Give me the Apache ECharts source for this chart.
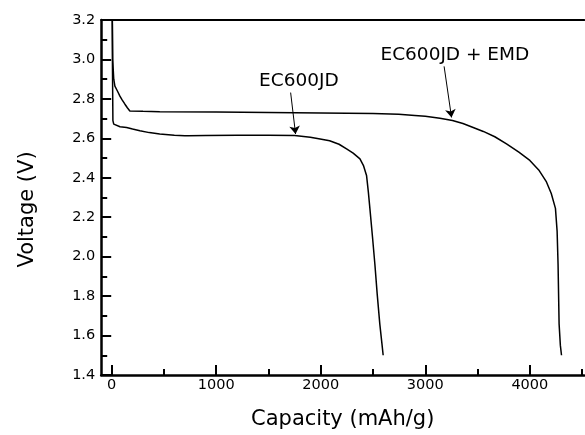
<!DOCTYPE html>
<html>
<head>
<meta charset="utf-8">
<script src="https://cdn.jsdelivr.net/npm/echarts@6/dist/echarts.min.js"></script>
<style>html,body{margin:0;padding:0;background:#fff;}#c{width:585px;height:435px;}</style>
</head>
<body>
<div id="c"></div>
<script>
// ---- data ----
const lowerCap  = [5, 8, 12, 20, 38, 80, 143, 200, 270, 360, 460, 600, 700, 714, 730, 900, 1200, 1500, 1750, 1900, 1994, 2085, 2175, 2247, 2310, 2375, 2410, 2438, 2455, 2470, 2495, 2518, 2540, 2565, 2585, 2597];
const lowerVolt = [3.3, 2.95, 2.69, 2.672, 2.664, 2.659, 2.655, 2.647, 2.638, 2.629, 2.622, 2.616, 2.613, 2.604, 2.613, 2.614, 2.616, 2.616, 2.614, 2.606, 2.597, 2.588, 2.57, 2.546, 2.525, 2.496, 2.46, 2.412, 2.33, 2.245, 2.10, 1.96, 1.81, 1.658, 1.56, 1.50];
const upperCap  = [5, 10, 20, 31, 55, 79, 100, 127, 150, 174, 300, 460, 1000, 1500, 2000, 2500, 2746, 2900, 3000, 3140, 3260, 3360, 3458, 3555, 3665, 3777, 3895, 4000, 4085, 4159, 4205, 4245, 4261, 4270, 4280, 4292, 4303];
const upperVolt = [3.3, 3.0, 2.90, 2.865, 2.84, 2.814, 2.795, 2.773, 2.755, 2.739, 2.737, 2.735, 2.733, 2.731, 2.729, 2.726, 2.722, 2.716, 2.712, 2.702, 2.69, 2.675, 2.655, 2.635, 2.608, 2.572, 2.53, 2.488, 2.44, 2.379, 2.32, 2.245, 2.128, 1.96, 1.658, 1.55, 1.50];

const seriesNames = ['EC600JD', 'EC600JD + EMD'];
const xMajorTicks = [0, 1000, 2000, 3000, 4000];
const xMinorTicks = [500, 1500, 2500, 3500, 4500];
const yTickLabels = [1.4, 1.6, 1.8, 2.0, 2.2, 2.4, 2.6, 2.8, 3.0, 3.2];

// annotation text anchors [capacity, voltage]
const labelLowerPos = [1791, 2.890];
const labelUpperPos = [3283, 3.024];
// arrows [from, to]
const arrowLowerFrom = [1712, 2.832], arrowLowerTo = [1759, 2.622];
const arrowUpperFrom = [3180, 2.965], arrowUpperTo = [3251, 2.706];

const zip = (a, b) => a.map((v, i) => [v, b[i]]);

const FONT = 'DejaVu Sans';
const chart = echarts.init(document.getElementById('c'), null, {renderer: 'canvas'});

const labelStyle = (txt) => ({
  show: true, formatter: txt, position: 'inside',
  fontFamily: FONT, fontSize: 18.5, color: '#000'
});

const lineSeries = (name, data, labelPos, from, to) => ({
  name, type: 'line', data, showSymbol: false, symbol: 'none',
  clip: true, animation: false, silent: true,
  lineStyle: {color: '#000', width: 1.5},
  markLine: {
    silent: true, animation: false,
    symbol: ['none', 'arrow'], symbolSize: 8,
    label: {show: false},
    lineStyle: {color: '#000', width: 1, type: 'solid'},
    data: [[{coord: from}, {coord: to}]]
  },
  markPoint: {
    silent: true, animation: false,
    data: [{coord: labelPos, symbol: 'circle', symbolSize: 0, label: labelStyle(name)}]
  }
});

chart.setOption({
  animation: false,
  backgroundColor: '#fff',
  grid: {left: 101.2, top: 20, right: 0.8, bottom: 57, containLabel: false},
  xAxis: [
    {
      type: 'value', min: -100, max: 4520, position: 'bottom',
      name: 'Capacity (mAh/g)', nameLocation: 'middle', nameGap: 34,
      nameTextStyle: {fontFamily: FONT, fontSize: 21, color: '#000'},
      axisLine: {show: true, onZero: false, lineStyle: {color: '#000', width: 2.5}},
      axisTick: {show: true, inside: true, length: 10, customValues: xMajorTicks, lineStyle: {color: '#000', width: 2}},
      axisLabel: {show: true, customValues: xMajorTicks, margin: 3, fontFamily: FONT, fontSize: 14.5, color: '#000',
        formatter: v => String(Math.round(v))},
      splitLine: {show: false}
    },
    {
      type: 'value', min: -100, max: 4520, position: 'bottom', gridIndex: 0,
      axisLine: {show: false, onZero: false},
      axisTick: {show: true, inside: true, length: 6, customValues: xMinorTicks, lineStyle: {color: '#000', width: 2}},
      axisLabel: {show: false},
      splitLine: {show: false}
    },
    {
      type: 'value', min: -100, max: 4520, position: 'top', gridIndex: 0,
      axisLine: {show: true, onZero: false, lineStyle: {color: '#000', width: 2}},
      axisTick: {show: false}, axisLabel: {show: false}, splitLine: {show: false}
    }
  ],
  yAxis: {
    type: 'value', min: 1.4, max: 3.2, interval: 0.2,
    name: 'Voltage (V)', nameLocation: 'middle', nameGap: 63,
    nameTextStyle: {fontFamily: FONT, fontSize: 21, color: '#000', padding: [0, 24, 0, 0]},
    axisLine: {show: true, onZero: false, lineStyle: {color: '#000', width: 2.5}},
    axisTick: {show: true, inside: true, length: 10, customValues: yTickLabels, lineStyle: {color: '#000', width: 2}},
    minorTick: {show: true, splitNumber: 2, length: 6, lineStyle: {color: '#000', width: 2}},
    axisLabel: {show: true, customValues: yTickLabels, margin: 6, fontFamily: FONT, fontSize: 14.5, color: '#000',
      formatter: v => Number(v).toFixed(1)},
    splitLine: {show: false}, minorSplitLine: {show: false}
  },
  series: [
    lineSeries(seriesNames[0], zip(lowerCap, lowerVolt), labelLowerPos, arrowLowerFrom, arrowLowerTo),
    lineSeries(seriesNames[1], zip(upperCap, upperVolt), labelUpperPos, arrowUpperFrom, arrowUpperTo)
  ]
});
</script>
</body>
</html>
